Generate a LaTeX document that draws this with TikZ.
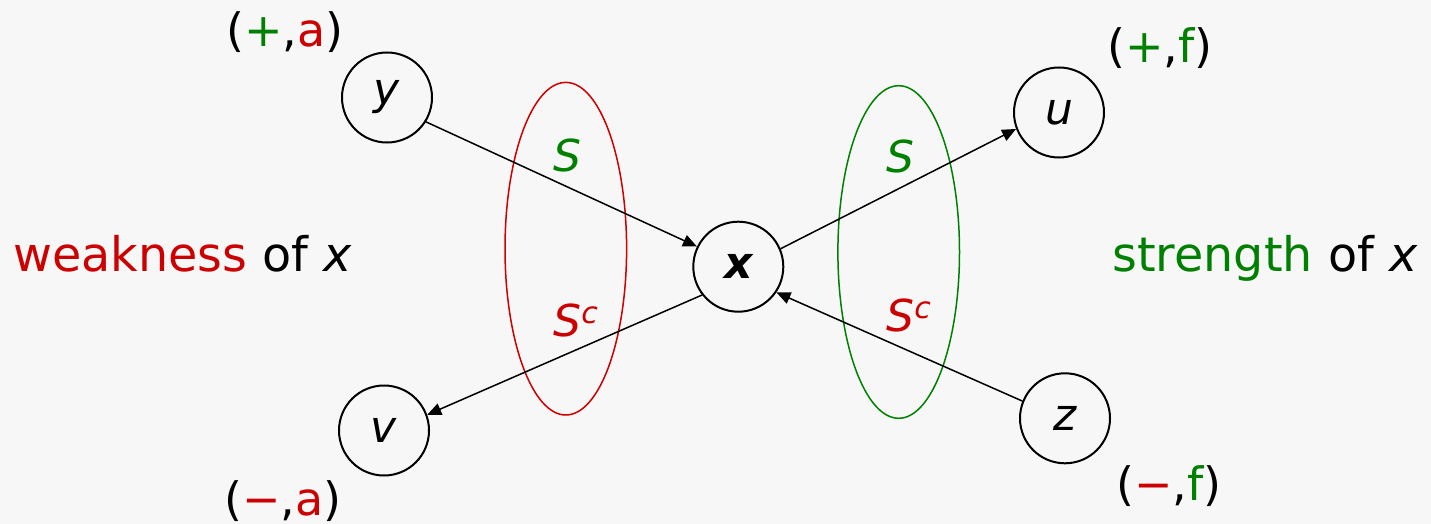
\documentclass[tikz,border=0pt]{standalone}
\usepackage{fontspec}
\setmainfont{DejaVu Sans}
\usetikzlibrary{arrows.meta,shapes.geometric}
\definecolor{myred}{RGB}{204,0,0}
\definecolor{mygreen}{RGB}{0,128,0}
\definecolor{bgcol}{RGB}{247,247,247}
\newcommand{\Sc}{\textit{S}\raisebox{0.55ex}{\fontsize{15}{15}\selectfont\itshape c}}
\begin{document}
\begin{tikzpicture}[x=0.5pt,y=-0.5pt,
  vtx/.style={circle,draw,line width=1pt,minimum size=45pt,inner sep=0pt,font=\fontsize{22}{22}\selectfont\itshape},
  arr/.style={line width=0.75pt,-{Triangle[length=7pt,width=6pt]}},
  lbl/.style={font=\fontsize{23}{23}\selectfont,inner sep=0pt},
  side/.style={font=\fontsize{23.8}{23.8}\selectfont,inner sep=0pt,anchor=base west},
  slbl/.style={font=\fontsize{22}{22}\selectfont,inner sep=0pt,anchor=base west},
  setell/.style={ellipse,line width=0.75pt,inner sep=0pt,minimum width=60.8pt,minimum height=166.3pt}]
\fill[bgcol] (0,0) rectangle (1431,524);
\useasboundingbox (0,0) rectangle (1431,524);

% sets
\node[setell,draw=myred] (sl) at (565.8,248.7) {};
\node[setell,draw=mygreen] (sr) at (898.7,252) {};

% vertices
\node[vtx] (y) at (387,97.5) {y};
\node[vtx] (u) at (1059,112.5) {u};
\node[vtx] (v) at (384,430.5) {v};
\node[vtx] (z) at (1065,418.3) {z};
\node[vtx,font=\fontsize{22}{22}\selectfont\bfseries\itshape] (x) at (738.3,266.7) {x};

% arrows
\draw[arr] (y.-32) -- (x.154);
\draw[arr] (x.23.5) -- (u.201);
\draw[arr] (x.218) -- (v.20);
\draw[arr] (z.158.6) -- (x.-34.6);

% set labels
\node[slbl,text=mygreen] (s1) at (553,171.7) {\textit{S}};
\node[slbl,text=myred] (s2) at (553,336.7) {\Sc};
\node[slbl,text=mygreen] (s3) at (886,173) {\textit{S}};
\node[slbl,text=myred] (s4) at (886,331.7) {\Sc};

% pair labels
\node[lbl] (ya) at (285,32) {(\textcolor{mygreen}{+},\textcolor{myred}{a})};
\node[lbl] (uf) at (1160,48) {(\textcolor{mygreen}{+},\textcolor{mygreen}{f})};
\node[lbl] (va) at (283,501) {(\textcolor{myred}{−},\textcolor{myred}{a})};
\node[lbl] (zf) at (1169,486) {(\textcolor{myred}{−},\textcolor{mygreen}{f})};

% side texts
\node[side] (wk) at (13,271.7) {\textcolor{myred}{weakness} of \textit{x}};
\node[side] (st) at (1112,271.7) {\textcolor{mygreen}{strength} of \textit{x}};
\end{tikzpicture}
\end{document}
